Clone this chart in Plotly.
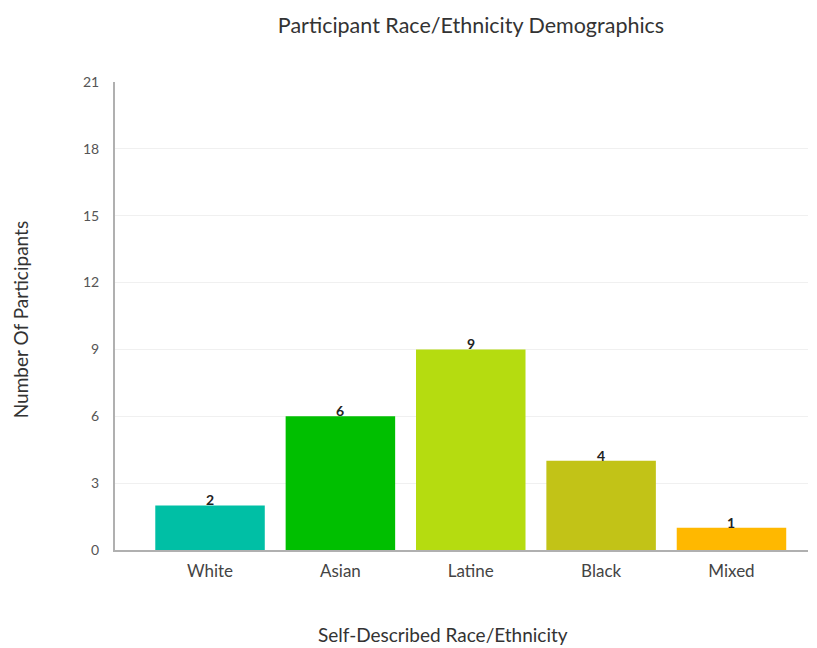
import plotly.graph_objects as go

categories = ["White", "Asian", "Latine", "Black", "Mixed"]
participants = [2, 6, 9, 4, 1]
bar_colors = ["#00BFA5", "#00BF00", "#B5DC10", "#C2C317", "#FFB800"]
y_ticks = [0, 3, 6, 9, 12, 15, 18, 21]

FONT = "Lato, 'Open Sans', sans-serif"

fig = go.Figure(
    go.Bar(
        x=categories,
        y=participants,
        marker=dict(color=bar_colors, line=dict(width=0)),
        width=0.84,
        hoverinfo="x+y",
    )
)

# value labels sitting on the top edge of each bar
value_labels = [
    dict(
        x=cat, y=val, xref="x", yref="y",
        text=f"<b>{val}</b>",
        showarrow=False,
        yanchor="bottom",
        yshift=-5,
        font=dict(family=FONT, size=14, color="#222222"),
    )
    for cat, val in zip(categories, participants)
]

fig.update_layout(
    width=817,
    height=648,
    margin=dict(l=115, r=9, t=82, b=98),
    paper_bgcolor="white",
    plot_bgcolor="white",
    showlegend=False,
    font=dict(family=FONT, color="#555555"),
    title=dict(
        text="Participant Race/Ethnicity Demographics",
        x=471 / 817,
        xanchor="center",
        y=1 - 25 / 648,
        yanchor="middle",
        font=dict(family=FONT, size=21.5, color="#333333"),
    ),
    xaxis=dict(
        type="category",
        range=[-0.729, 4.587],
        showgrid=False,
        showline=True,
        linecolor="#b0b0b0",
        linewidth=2,
        ticks="",
        ticklabelstandoff=5,
        tickfont=dict(family=FONT, size=17, color="#444444"),
    ),
    yaxis=dict(
        range=[0, 21],
        tickvals=y_ticks,
        showgrid=True,
        gridcolor="#f0f0f0",
        gridwidth=1,
        zeroline=False,
        showline=True,
        linecolor="#b0b0b0",
        linewidth=2,
        ticks="",
        ticklabelstandoff=11,
        tickfont=dict(family=FONT, size=14, color="#555555"),
    ),
    annotations=value_labels + [
        dict(
            text="Self-Described Race/Ethnicity",
            xref="paper", yref="paper",
            x=(443 - 115) / 693, y=0,
            yshift=-84,
            xanchor="center", yanchor="middle",
            showarrow=False,
            font=dict(family=FONT, size=19, color="#333333"),
        ),
        dict(
            text="Number Of Participants",
            xref="paper", yref="paper",
            x=0, y=0.491,
            xshift=-95,
            xanchor="center", yanchor="middle",
            textangle=-90,
            showarrow=False,
            font=dict(family=FONT, size=19, color="#333333"),
        ),
    ],
)

fig.write_html("out.html")
